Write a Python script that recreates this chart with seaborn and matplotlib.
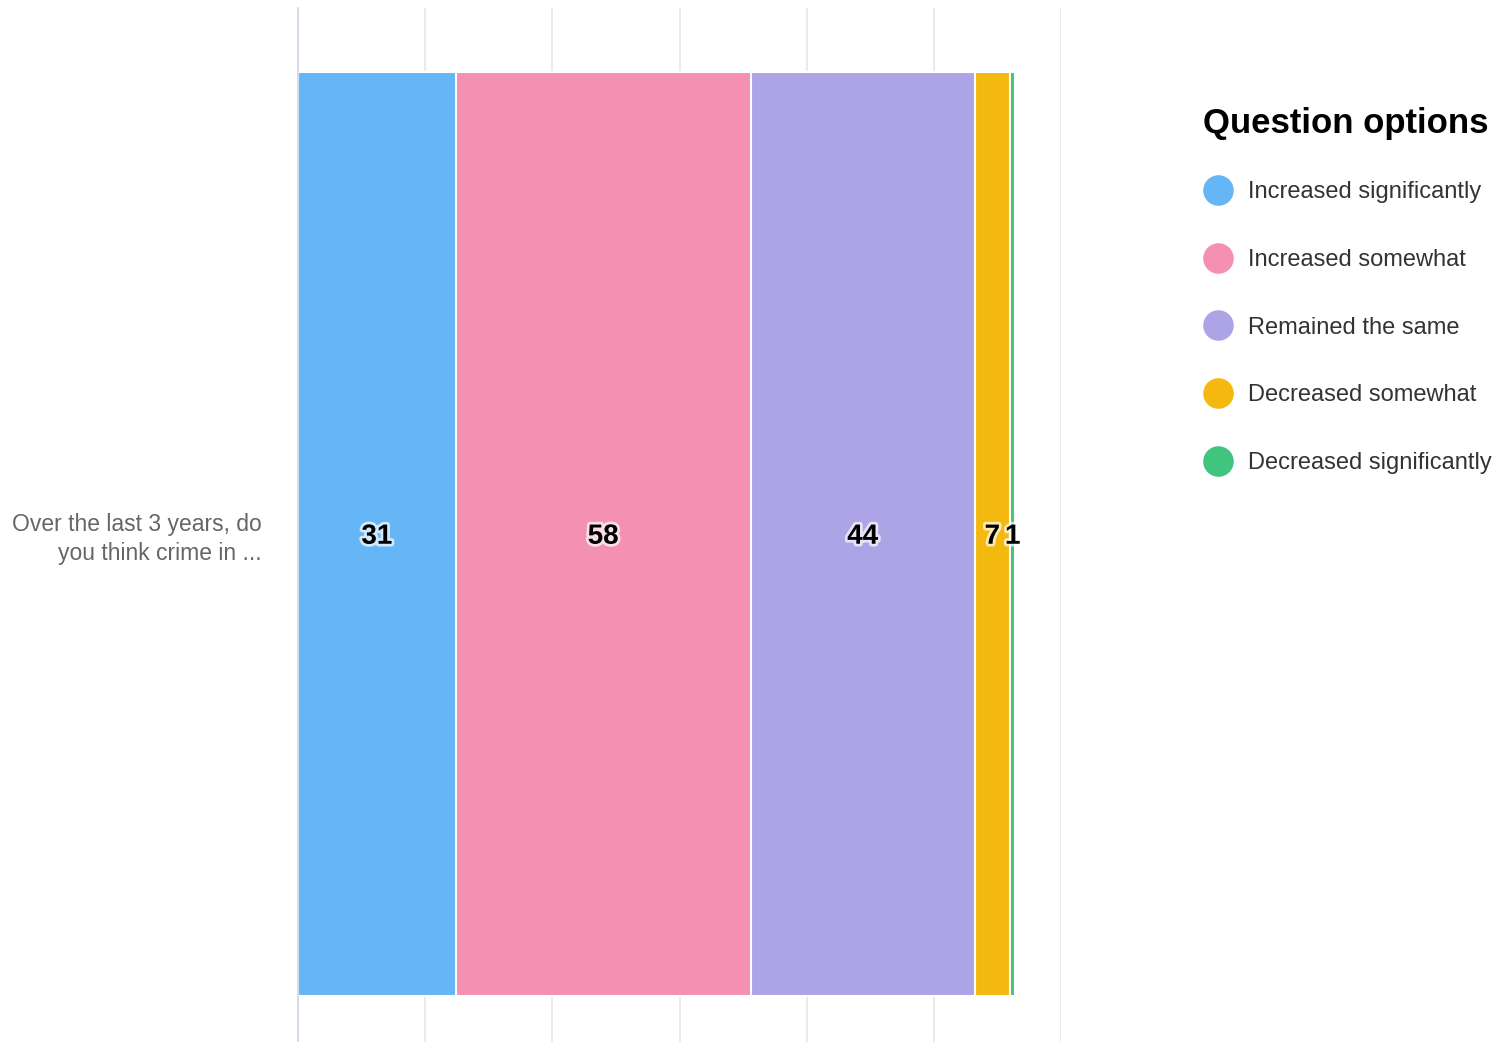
import pandas as pd
import matplotlib
matplotlib.use("Agg")
import matplotlib.pyplot as plt
import matplotlib.patheffects as pe
from matplotlib.lines import Line2D
import seaborn as sns

# --- DONNEES ---
question = "Over the last 3 years, do\nyou think crime in ..."
options = ["Increased significantly", "Increased somewhat", "Remained the same",
           "Decreased somewhat", "Decreased significantly"]
counts = [31, 58, 44, 7, 1]
colors = ["#64B6F6", "#F490B2", "#ACA4E5", "#F3B90E", "#40C47E"]
x_ticks = [0, 25, 50, 75, 100, 125, 150]

sns.set_theme(style="white")
plt.rcParams['font.family'] = ['Liberation Sans', 'DejaVu Sans']

df = pd.DataFrame({"option": options, "count": counts, "color": colors})
df["cum"] = df["count"].cumsum()
df["start"] = df["cum"] - df["count"]

fig = plt.figure(figsize=(14.98, 10.42), dpi=100)
ax = fig.add_axes([298 / 1498, 0, (1061 - 298) / 1498, 1 - 8 / 1042])

# barres empilees : on dessine les cumuls du plus grand au plus petit
for _, row in df.iloc[::-1].iterrows():
    sns.barplot(x=[row["cum"]], y=[question], orient="h", color=row["color"],
                saturation=1, width=0.9, edgecolor="white", linewidth=1.5,
                ax=ax, zorder=2)

# etiquettes de valeurs
for _, row in df.iterrows():
    ax.text(row["start"] + row["count"] / 2, 0, str(row["count"]),
            ha="center", va="center_baseline", fontsize=20, fontweight="bold",
            color="#000000", zorder=5,
            path_effects=[pe.withStroke(linewidth=4, foreground="white", alpha=0.7)])

ax.set_xlim(0, 150)
ax.set_ylim(0.495, -0.512)
ax.set_xticks(x_ticks)
ax.set_xticklabels([])
ax.xaxis.grid(True, color="#e6e6e6", linewidth=1.2, zorder=0)
ax.set_axisbelow(True)
ax.tick_params(axis="both", length=0)
ax.tick_params(axis="y", pad=26, labelsize=16.5, labelcolor="#666666")
for lbl in ax.get_yticklabels():
    lbl.set_multialignment("right")
    lbl.set_linespacing(1.3)
    lbl.set_va("center_baseline")
ax.set_xlabel("")
ax.set_ylabel("")
for s in ["top", "right", "bottom"]:
    ax.spines[s].set_visible(False)
ax.spines["left"].set_color("#ccd6eb")
ax.spines["left"].set_linewidth(1.2)

# legende
handles = [Line2D([0], [0], marker="o", linestyle="", markersize=21,
                  markerfacecolor=c, markeredgecolor=c) for c in colors]
leg = fig.legend(handles, options, title="Question options", loc="upper left",
                 bbox_to_anchor=(1203 / 1498, 1 - 107 / 1042), frameon=False,
                 fontsize=17, title_fontproperties={"size": 25, "weight": "bold"},
                 labelspacing=1.94, handlelength=1.3, handletextpad=0.6,
                 borderpad=0, borderaxespad=0, alignment="left")
leg._legend_box.sep = 29.5  # ecart titre / entrees
leg.get_title().set_color("#000000")
for t in leg.get_texts():
    t.set_color("#333333")

fig.savefig("out.png", dpi=100)
